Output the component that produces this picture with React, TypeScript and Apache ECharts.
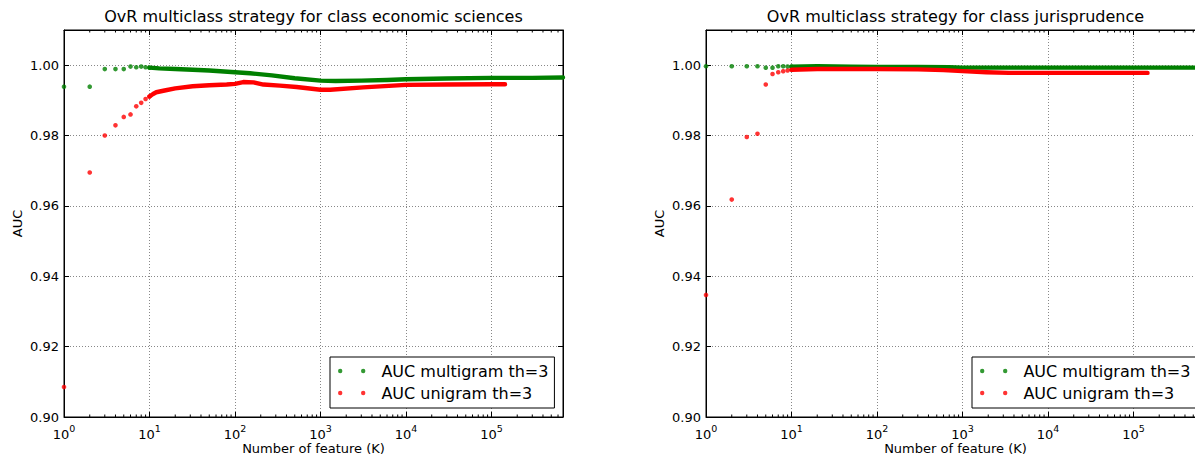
import React, { useEffect, useRef } from "react";
import * as echarts from "echarts";

// ---------- data (K features -> AUC) ----------
const titles = [
  "OvR multiclass strategy for class economic sciences",
  "OvR multiclass strategy for class jurisprudence",
];
const seriesNames = ["AUC multigram th=3", "AUC unigram th=3"];
const xTickExponents = ["0", "1", "2", "3", "4", "5"];
const yTickLabels = ["0.90", "0.92", "0.94", "0.96", "0.98", "1.00"];
const xMin = 1;
const xMax = 686000;
const yMin = 0.9;
const yMax = 1.01;

// economic sciences – multigram: separate points, then the dense run
const econMultiPoints: [number, number][] = [
  [1, 0.9939], [2, 0.9939], [3, 0.9989], [4, 0.9989], [5, 0.9989],
  [6, 0.9996], [7, 0.9994], [8, 0.9996], [9, 0.9994], [10, 0.9993],
];
const econMultiDense: [number, number][] = [
  [10, 0.9993], [13, 0.9991], [20, 0.9989], [32, 0.9987], [50, 0.9985],
  [100, 0.998], [150, 0.9977], [270, 0.9971], [500, 0.9963], [1000, 0.9956],
  [1500, 0.9955], [3000, 0.9956], [6000, 0.9958], [10000, 0.996],
  [30000, 0.9962], [100000, 0.9964], [300000, 0.9964], [686000, 0.9965],
];
// economic sciences – unigram
const econUniPoints: [number, number][] = [
  [1, 0.9085], [2, 0.9695], [3, 0.98], [4, 0.9829], [5, 0.9853], [6, 0.986],
  [7, 0.9883], [8, 0.9893], [9, 0.9904], [10, 0.9911],
];
const econUniDense: [number, number][] = [
  [10, 0.9911], [11, 0.9918], [12, 0.9923], [15, 0.9928], [20, 0.9934],
  [32, 0.994], [50, 0.9943], [80, 0.9945], [100, 0.9947], [125, 0.9952],
  [165, 0.9951], [215, 0.9945], [335, 0.9942], [525, 0.9938], [1000, 0.993],
  [1300, 0.993], [3150, 0.9937], [10000, 0.9944], [30000, 0.9945],
  [100000, 0.9946], [144000, 0.9946],
];
// jurisprudence – multigram
const jurMultiPoints: [number, number][] = [
  [1, 0.9997], [2, 0.9997], [3, 0.9997], [4, 0.9997], [5, 0.9993],
  [6, 0.9993], [7, 0.9997], [8, 0.9997], [9, 0.9996], [10, 0.9996],
];
const jurMultiDense: [number, number][] = [
  [10, 0.9996], [20, 0.9997], [50, 0.9996], [100, 0.9995], [300, 0.9995],
  [700, 0.9994], [1000, 0.9993], [3000, 0.9993], [10000, 0.9993],
  [100000, 0.9993], [686000, 0.9993],
];
// jurisprudence – unigram
const jurUniPoints: [number, number][] = [
  [1, 0.9347], [2, 0.9618], [3, 0.9796], [4, 0.9805], [5, 0.9945],
  [6, 0.9975], [7, 0.998], [8, 0.9983], [9, 0.9985], [10, 0.9987],
];
const jurUniDense: [number, number][] = [
  [10, 0.9987], [20, 0.9989], [50, 0.9989], [100, 0.9989], [300, 0.9988],
  [600, 0.9986], [1000, 0.9983], [1900, 0.998], [3500, 0.9978],
  [10000, 0.9978], [50000, 0.9978], [146000, 0.9978],
];

const GREEN = "#008000";
const RED = "#ff0000";
const FONT = "DejaVu Sans";

const minorTickValues: number[] = [];
for (let e = 0; e <= 5; e++) {
  for (let m = 2; m <= 9; m++) {
    const v = m * Math.pow(10, e);
    if (v < xMax) minorTickValues.push(v);
  }
}

const xLabelFormatter = (v: number) => {
  const l = Math.log10(v);
  const e = Math.round(l);
  if (Math.abs(l - e) > 1e-6) return "";
  const s = xTickExponents[e];
  return s === undefined ? "" : `{b|10}{s|${s}}`;
};
const yLabelFormatter = (v: number) =>
  yTickLabels.find((t) => Math.abs(parseFloat(t) - v) < 1e-6) ?? "";

const legendIcon =
  "path://M0,2.2a2.2,2.2 0 1,0 4.4,0a2.2,2.2 0 1,0 -4.4,0zM23,2.2a2.2,2.2 0 1,0 4.4,0a2.2,2.2 0 1,0 -4.4,0z";

export default function App() {
  const ref = useRef<HTMLDivElement>(null);
  useEffect(() => {
    if (!ref.current) return;
    const chart = echarts.init(ref.current, undefined, { renderer: "svg" });
    const gridLefts = [64, 706];
    const plotW = 499;
    const grids = gridLefts.map((l) => ({
      left: l,
      top: 30,
      width: plotW,
      height: 387,
      show: true,
      containLabel: false,
      outerBoundsMode: "none",
      borderColor: "#000",
      borderWidth: 1,
      backgroundColor: "#fff",
    }));

    const xAxes: any[] = [];
    const yAxes: any[] = [];
    [0, 1].forEach((g) => {
      xAxes.push({
        type: "log",
        logBase: 10,
        gridIndex: g,
        min: xMin,
        max: xMax,
        position: "bottom",
        name: "Number of feature (K)",
        nameLocation: "middle",
        nameGap: 25,
        nameMoveOverlap: false,
        nameTextStyle: { fontFamily: FONT, fontSize: 13, color: "#000" },
        axisLine: { show: true, lineStyle: { color: "#000", width: 1 } },
        axisTick: { show: true, inside: true, length: 5, lineStyle: { color: "#000" } },
        axisLabel: {
          show: true,
          formatter: xLabelFormatter,
          fontFamily: FONT,
          color: "#000",
          margin: 6,
          showMaxLabel: false,
          rich: {
            b: { fontFamily: FONT, fontSize: 13, color: "#000", lineHeight: 18, verticalAlign: "bottom" },
            s: { fontFamily: FONT, fontSize: 9.5, color: "#000", lineHeight: 18, verticalAlign: "top" },
          },
        },
        splitLine: { show: true, lineStyle: { color: "#888", type: [1, 2], width: 1 } },
        minorTick: { show: false },
      });
      xAxes.push({
        type: "log",
        logBase: 10,
        gridIndex: g,
        min: xMin,
        max: xMax,
        position: "top",
        axisLine: { show: true, lineStyle: { color: "#000", width: 1 } },
        axisTick: { show: true, inside: true, length: 5, lineStyle: { color: "#000" } },
        axisLabel: { show: false },
        splitLine: { show: false },
      });
      yAxes.push({
        type: "value",
        gridIndex: g,
        min: yMin,
        max: yMax,
        interval: 0.02,
        position: "left",
        name: "AUC",
        nameLocation: "middle",
        nameGap: 40,
        nameMoveOverlap: false,
        nameTextStyle: { fontFamily: FONT, fontSize: 13, color: "#000" },
        axisLine: { show: true, lineStyle: { color: "#000", width: 1 } },
        axisTick: { show: true, inside: true, length: 5, lineStyle: { color: "#000" } },
        axisLabel: {
          formatter: yLabelFormatter,
          fontFamily: FONT,
          fontSize: 13,
          color: "#000",
          margin: 5,
          showMaxLabel: false,
        },
        splitLine: { show: true, lineStyle: { color: "#888", type: [1, 2], width: 1 } },
      });
      yAxes.push({
        type: "value",
        gridIndex: g,
        min: yMin,
        max: yMax,
        interval: 0.02,
        position: "right",
        axisLine: { show: true, lineStyle: { color: "#000", width: 1 } },
        axisTick: { show: true, inside: true, length: 5, lineStyle: { color: "#000" } },
        axisLabel: { show: false },
        splitLine: { show: false },
      });
    });

    const panels = [
      { multiP: econMultiPoints, multiD: econMultiDense, uniP: econUniPoints, uniD: econUniDense },
      { multiP: jurMultiPoints, multiD: jurMultiDense, uniP: jurUniPoints, uniD: jurUniDense },
    ];
    const series: any[] = [];
    panels.forEach((p, g) => {
      const ax = { xAxisIndex: g * 2, yAxisIndex: g * 2 };
      const scatter = (name: string, data: [number, number][], color: string) => ({
        type: "scatter",
        name,
        ...ax,
        data,
        symbol: "circle",
        symbolSize: 4.6,
        itemStyle: { color },
        silent: true,
      });
      const dense = (name: string, data: [number, number][], color: string) => ({
        type: "line",
        name,
        ...ax,
        data,
        showSymbol: false,
        symbol: "none",
        itemStyle: { color },
        lineStyle: { color, width: 4.4, cap: "round", join: "round" },
        silent: true,
      });
      series.push(scatter(seriesNames[0], p.multiP, GREEN));
      series.push(dense(seriesNames[0], p.multiD, GREEN));
      series.push(scatter(seriesNames[1], p.uniP, RED));
      series.push(dense(seriesNames[1], p.uniD, RED));
      series.push({
        type: "custom",
        name: "minor-ticks",
        ...ax,
        silent: true,
        z: 5,
        data: minorTickValues.map((v) => [v, yMin]),
        renderItem: (_params: any, api: any) => {
          const v = api.value(0);
          const b = api.coord([v, yMin]);
          const t = api.coord([v, yMax]);
          return {
            type: "group",
            children: [
              { type: "line", shape: { x1: b[0], y1: b[1], x2: b[0], y2: b[1] - 2.5 }, style: { stroke: "#000", lineWidth: 1 } },
              { type: "line", shape: { x1: t[0], y1: t[1], x2: t[0], y2: t[1] + 2.5 }, style: { stroke: "#000", lineWidth: 1 } },
            ],
          };
        },
      });
    });

    const legends = gridLefts.map((l) => ({
      orient: "vertical",
      left: l + 266,
      top: 357,
      data: seriesNames,
      icon: legendIcon,
      itemWidth: 27.4,
      itemHeight: 4.4,
      itemGap: 6,
      padding: [6, 6, 7, 8],
      borderColor: "#000",
      borderWidth: 1,
      backgroundColor: "#fff",
      selectedMode: false,
      textStyle: { fontFamily: FONT, fontSize: 16, color: "#000", padding: [0, 0, 0, 11] },
    }));

    const titleOpts = gridLefts.map((l, i) => ({
      text: titles[i],
      left: l + plotW / 2,
      textAlign: "center",
      top: 8,
      padding: 0,
      textStyle: { fontFamily: FONT, fontSize: 16, fontWeight: "normal", color: "#000" },
    }));

    chart.setOption({
      animation: false,
      backgroundColor: "#fff",
      textStyle: { fontFamily: FONT },
      title: titleOpts,
      grid: grids,
      xAxis: xAxes,
      yAxis: yAxes,
      legend: legends,
      series,
    });
    return () => chart.dispose();
  }, []);
  return (
    <div
      ref={ref}
      style={{ position: "absolute", left: 0, top: 0, width: 1195, height: 457, background: "#fff" }}
    />
  );
}
